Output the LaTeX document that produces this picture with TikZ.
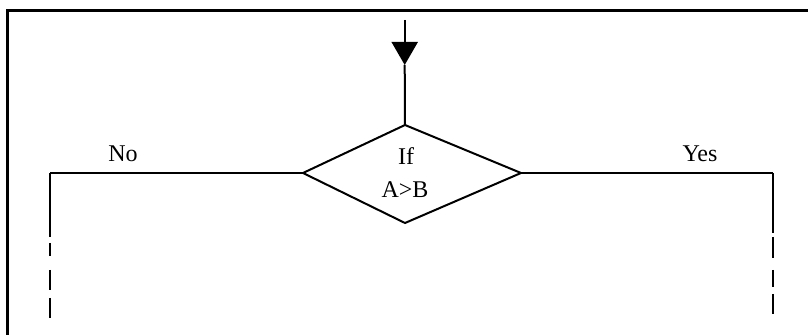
\documentclass[tikz,border=0pt]{standalone}
\usepackage{fontspec}
\setmainfont{Liberation Serif}
\usetikzlibrary{arrows.meta}
\definecolor{LnCol}{RGB}{0,0,0}
\tikzset{
  ln/.style={draw=LnCol,line width=1pt},
  frm/.style={draw=LnCol,line width=1.5pt},
  lbl/.style={anchor=base,inner sep=0pt,font=\fontsize{12}{14}\selectfont},
  arr/.style={-{Triangle[length=11.5pt,width=13pt]},draw=LnCol,fill=LnCol,line width=1pt},
  cont_no/.style={dash pattern=on 32pt off 3pt on 6.5pt off 7pt on 10pt off 4pt on 10pt off 40pt},
  cont_yes/.style={dash pattern=on 30pt off 2pt on 10.5pt off 6pt on 8.5pt off 3.5pt on 10pt off 40pt},
}

\begin{document}
\begin{tikzpicture}[x=0.5pt,y=-0.5pt]
\clip (0,0) rectangle (808,335);
\draw[frm] (7.5,10.5) rectangle (830,360);
% decision
\coordinate (dT) at (405,125);
\coordinate (dR) at (521,173);
\coordinate (dB) at (405,223);
\coordinate (dL) at (303,173);
\draw[ln] (dT)--(dR)--(dB)--(dL)--cycle;
\node[lbl] (qIf) at (406,165) {If};
\node[lbl] (qAB) at (405,198) {A>B};
% entry
\coordinate (IN) at (404.7,20);
\coordinate (INm) at (404.7,65);
\draw[arr](IN)--(INm);
\draw[ln](INm)--(dT);
% No branch
\coordinate (NoC) at (49.5,173);
\coordinate (NoE) at (49.5,320);
\draw[ln](dL)--(NoC);
\draw[ln,cont_no](NoC)--(NoE);
\node[lbl] (lNo) at (123,162) {No};
% Yes branch
\coordinate (YesC) at (773,173);
\coordinate (YesE) at (773,320);
\draw[ln](dR)--(YesC);
\draw[ln,cont_yes](YesC)--(YesE);
\node[lbl] (lYes) at (700,162) {Yes};
\end{tikzpicture}
\end{document}
